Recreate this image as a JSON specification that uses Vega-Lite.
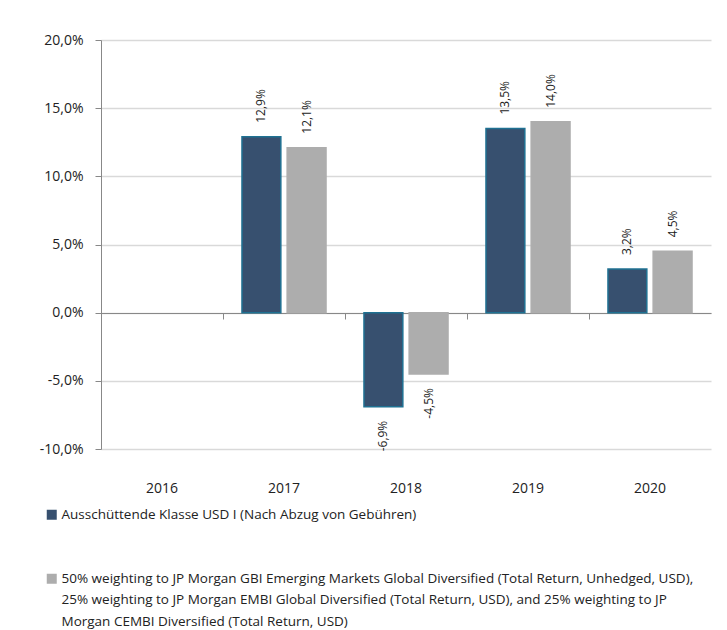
{
  "$schema": "https://vega.github.io/schema/vega-lite/v6.json",
  "autosize": {"type": "none"},
  "width": 610,
  "height": 409,
  "padding": {"left": 101, "top": 40, "right": 16, "bottom": 181},
  "background": "white",
  "config": {
    "font": "Open Sans",
    "view": {"stroke": null},
    "locale": {"number": {"decimal": ",", "thousands": ".", "grouping": [3], "currency": ["", " €"], "minus": "-"}}
  },
  "data": {
    "values": [
      {"year": "2016", "series": "Ausschüttende Klasse USD I (Nach Abzug von Gebühren)", "value": null},
      {"year": "2016", "series": "Benchmark", "value": null},
      {"year": "2017", "series": "Ausschüttende Klasse USD I (Nach Abzug von Gebühren)", "value": 0.129},
      {"year": "2017", "series": "Benchmark", "value": 0.121},
      {"year": "2018", "series": "Ausschüttende Klasse USD I (Nach Abzug von Gebühren)", "value": -0.069},
      {"year": "2018", "series": "Benchmark", "value": -0.045},
      {"year": "2019", "series": "Ausschüttende Klasse USD I (Nach Abzug von Gebühren)", "value": 0.135},
      {"year": "2019", "series": "Benchmark", "value": 0.14},
      {"year": "2020", "series": "Ausschüttende Klasse USD I (Nach Abzug von Gebühren)", "value": 0.032},
      {"year": "2020", "series": "Benchmark", "value": 0.045}
    ]
  },
  "encoding": {
    "x": {
      "field": "year", "type": "nominal",
      "scale": {"domain": ["2016", "2017", "2018", "2019", "2020"], "paddingInner": 0, "paddingOuter": 0},
      "axis": {
        "title": null, "labelAngle": 0, "offset": -136, "bandPosition": 0,
        "domainColor": "#888888", "tickColor": "#888888", "tickSize": 6,
        "labelPadding": 162, "labelFontSize": 14, "labelColor": "#222222", "grid": false
      }
    },
    "xOffset": {"field": "series", "type": "nominal", "scale": {"paddingInner": 0.14, "paddingOuter": 0.42}},
    "y": {
      "field": "value", "type": "quantitative",
      "scale": {"domain": [-0.1, 0.2], "nice": false, "zero": true},
      "axis": {
        "title": null, "format": ".1%", "values": [-0.1, -0.05, 0, 0.05, 0.1, 0.15, 0.2],
        "labelFontSize": 14, "labelColor": "#222222", "labelPadding": 12,
        "domainColor": "#888888", "tickColor": "#888888", "tickSize": 6,
        "gridColor": "#d9d9d9", "gridWidth": 1.5
      }
    }
  },
  "layer": [
    {
      "mark": {"type": "bar", "strokeWidth": 1.5},
      "encoding": {
        "color": {
          "field": "series", "type": "nominal",
          "scale": {"range": ["#37506f", "#adadad"]},
          "legend": {
            "title": null, "orient": "none", "legendX": -56, "legendY": 468,
            "direction": "vertical", "symbolType": "square", "symbolSize": 100,
            "symbolStrokeWidth": 0, "labelFontSize": 13.5, "labelColor": "#222222",
            "labelLimit": 700, "rowPadding": 49, "labelOffset": 3,
            "labelExpr": "datum.label == 'Benchmark' ? ['50% weighting to JP Morgan GBI Emerging Markets Global Diversified (Total Return, Unhedged, USD),', '25% weighting to JP Morgan EMBI Global Diversified (Total Return, USD), and 25% weighting to JP', 'Morgan CEMBI Diversified (Total Return, USD)'] : datum.label",
            "encode": {"labels": {"update": {"lineHeight": {"value": 21.5}}}}
          }
        },
        "stroke": {
          "field": "series", "type": "nominal",
          "scale": {"range": ["#1f7192", "#adadad"]},
          "legend": null
        }
      }
    },
    {
      "transform": [{"filter": "datum.value != null && datum.value >= 0"}],
      "mark": {"type": "text", "angle": 270, "align": "left", "baseline": "middle", "dx": 14, "fontSize": 12, "color": "#222222"},
      "encoding": {"text": {"field": "value", "type": "quantitative", "format": ".1%"}}
    },
    {
      "transform": [{"filter": "datum.value != null && datum.value < 0"}],
      "mark": {"type": "text", "angle": 270, "align": "right", "baseline": "middle", "dx": -14, "fontSize": 12, "color": "#222222"},
      "encoding": {"text": {"field": "value", "type": "quantitative", "format": ".1%"}}
    }
  ]
}
